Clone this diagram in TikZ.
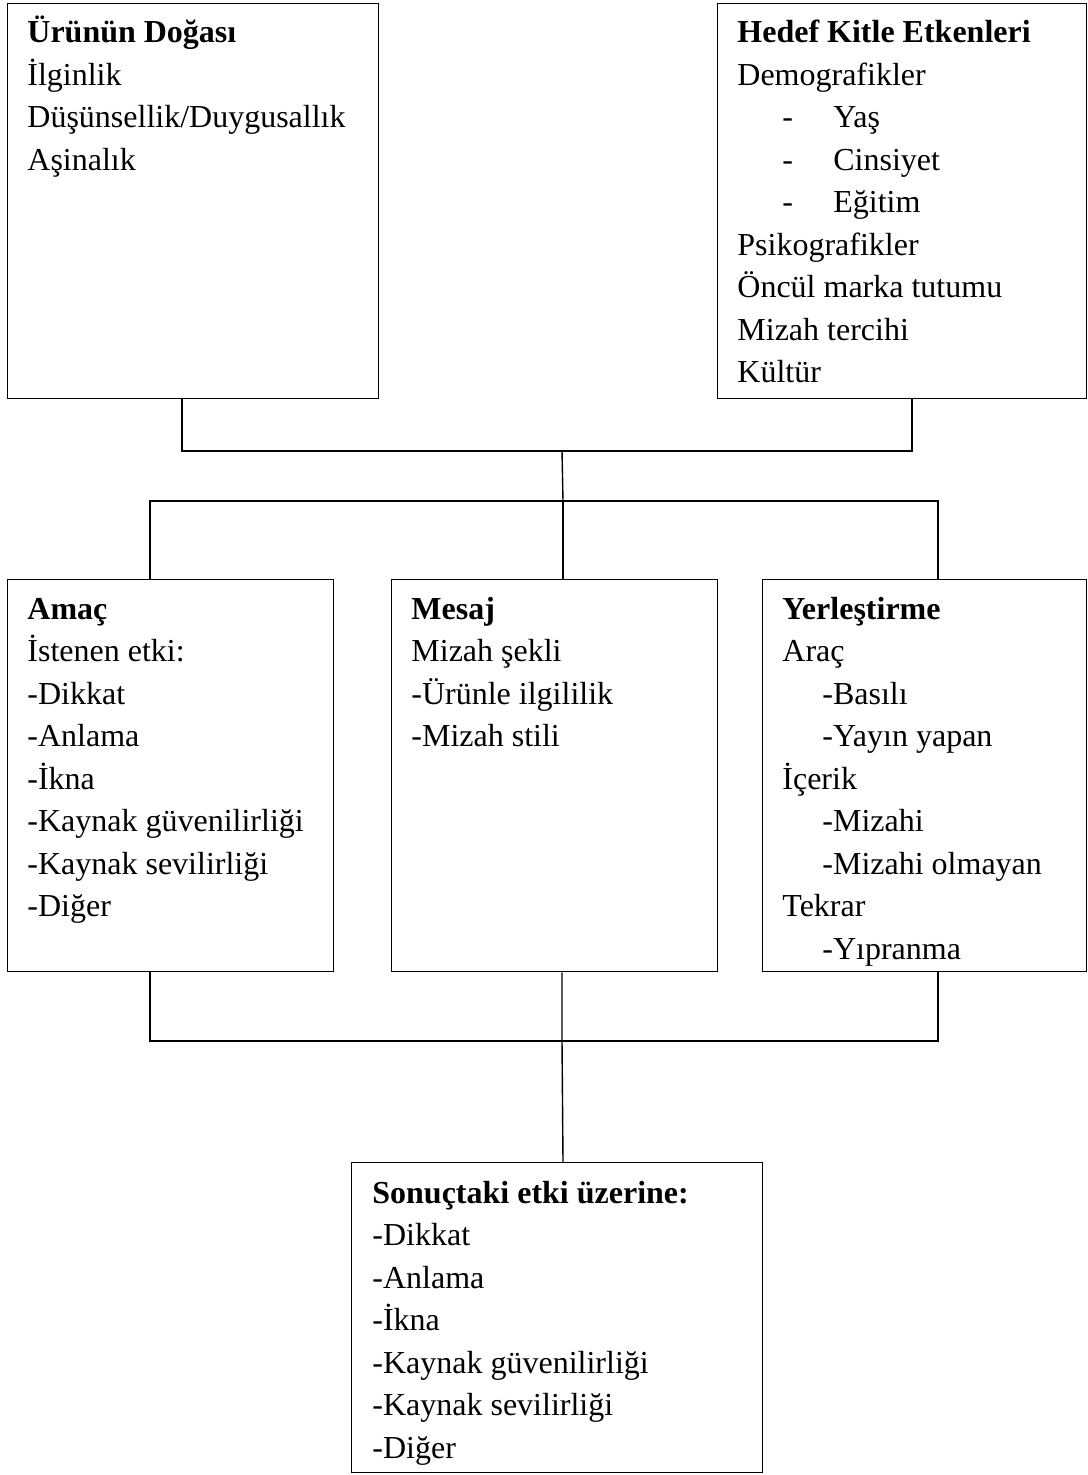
\documentclass[tikz,border=0pt]{standalone}
\usepackage{fontspec}
\setmainfont{Liberation Serif}
\usepackage{tikz}

\newcommand{\liste}[1]{\begin{tabular}[t]{@{}l@{}}#1\end{tabular}}
\newcommand{\girinti}{\hspace*{22.5pt}\makebox[25.5pt][l]{-}}

\tikzset{
  kutu/.style={draw, line width=0.7pt, inner sep=0pt, anchor=north west},
  yazi/.style={anchor=base west, inner sep=0pt, font=\fontsize{16}{21.25}\selectfont},
  hat/.style={line width=0.7pt}
}

\begin{document}
\begin{tikzpicture}[x=0.5pt,y=-0.5pt]
    \useasboundingbox (0,0) rectangle (1087,1475);
    % kutular
    \node[kutu, minimum width=185.5pt, minimum height=197.5pt] (doga) at (7,3) {};
    \node[kutu, minimum width=184.5pt, minimum height=197.5pt] (hedef) at (717,3) {};
    \node[kutu, minimum width=163pt, minimum height=196pt] (amac) at (7,579) {};
    \node[kutu, minimum width=163pt, minimum height=196pt] (mesaj) at (391,579) {};
    \node[kutu, minimum width=162pt, minimum height=196pt] (yer) at (762,579) {};
    \node[kutu, minimum width=205.5pt, minimum height=155pt] (sonuc) at (351,1162) {};
    %
    \node[yazi] (doga-t) at (27,43) {\liste{\textbf{Ürünün Doğası}\\
      İlginlik\\ Düşünsellik/Duygusallık\\ Aşinalık}};
    \node[yazi] (hedef-t) at (737,43) {\liste{\textbf{Hedef Kitle Etkenleri}\\
      Demografikler\\ \girinti Yaş\\ \girinti Cinsiyet\\ \girinti Eğitim\\
      Psikografikler\\ Öncül marka tutumu\\ Mizah tercihi\\ Kültür}};
    \node[yazi] (amac-t) at (27,619) {\liste{\textbf{Amaç}\\
      İstenen etki:\\ -Dikkat\\ -Anlama\\ -İkna\\ -Kaynak güvenilirliği\\
      -Kaynak sevilirliği\\ -Diğer}};
    \node[yazi] (mesaj-t) at (411,619) {\liste{\textbf{Mesaj}\\
      Mizah şekli\\ -Ürünle ilgililik\\ -Mizah stili}};
    \node[yazi] (yer-t) at (782,619) {\liste{\textbf{Yerleştirme}\\
      Araç\\ \hspace*{20pt}-Basılı\\ \hspace*{20pt}-Yayın yapan\\ İçerik\\
      \hspace*{20pt}-Mizahi\\ \hspace*{20pt}-Mizahi olmayan\\ Tekrar\\
      \hspace*{20pt}-Yıpranma}};
    \node[yazi] (sonuc-t) at (372,1203) {\liste{\textbf{Sonuçtaki etki üzerine:}\\
      -Dikkat\\ -Anlama\\ -İkna\\ -Kaynak güvenilirliği\\
      -Kaynak sevilirliği\\ -Diğer}};
    %
    \coordinate (j1) at (562,451);
    \coordinate (j2) at (563,501);
    \coordinate (j3) at (562,1041);
    \draw[hat] ([shift={(175,0)}]doga.south west) |- (j1)
      -| ([shift={(195,0)}]hedef.south west);
    \draw[hat] (j1) -- (j2);
    \draw[hat] ([shift={(143,0)}]amac.north west) |- (j2)
      -| ([shift={(176,0)}]yer.north west);
    \draw[hat] (j2) -- (mesaj.north -| j2);
    \draw[hat] ([shift={(143,0)}]amac.south west) |- (j3)
      -| ([shift={(176,0)}]yer.south west);
    \draw[hat] (mesaj.south -| j3) -- (j3)
      -- ([shift={(212,0)}]sonuc.north west);
\end{tikzpicture}
\end{document}
